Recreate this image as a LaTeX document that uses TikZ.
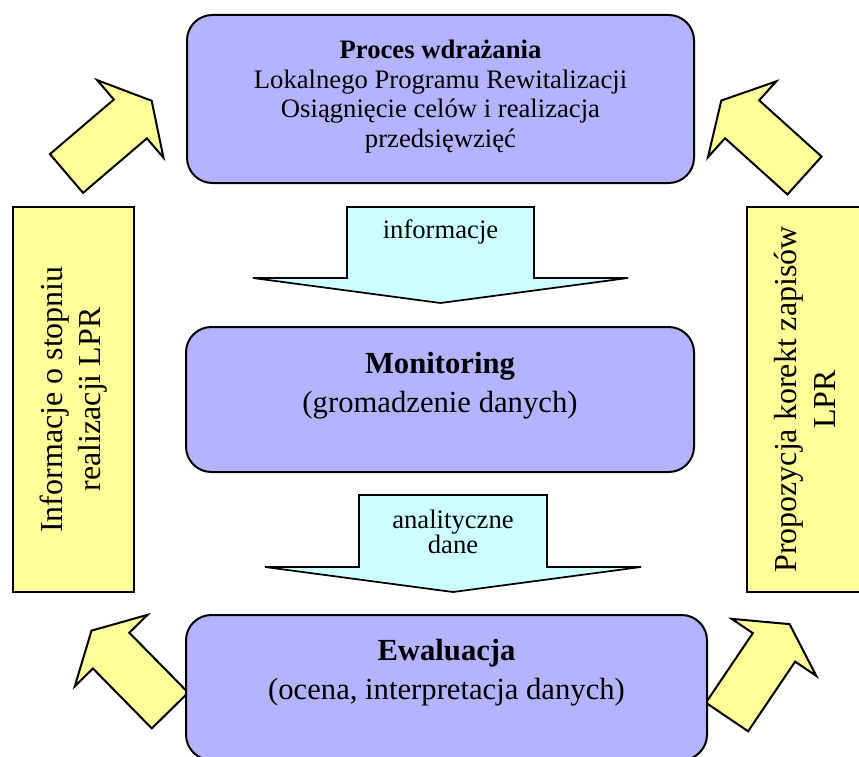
\documentclass[tikz,border=0pt]{standalone}
\usepackage{fontspec}
\setmainfont{Liberation Serif}
\usepackage{tikz}
\definecolor{lavender}{RGB}{179, 179, 255}
\definecolor{canary}{RGB}{255, 255, 153}
\definecolor{icecyan}{RGB}{204, 255, 255}

\begin{document}
\begin{tikzpicture}[x=0.75pt, y=-0.75pt,
        stagebox/.style={draw=black, fill=lavender, line width=1.5pt, rounded corners=19pt, inner sep=0pt},
        sidebox/.style={draw=black, fill=canary, line width=1.5pt, inner sep=0pt,
                        minimum width=90.75pt, minimum height=288.75pt},
        stagetext/.style={align=center, inner sep=0pt, font=\fontsize{23}{29}\selectfont},
        sidetext/.style={align=center, inner sep=0pt, rotate=90, font=\fontsize{24}{29}\selectfont},
        flowtext/.style={align=center, inner sep=0pt, font=\fontsize{20}{17}\selectfont},
        flowarrow/.style={draw=black, fill=icecyan, line width=1.3pt, line join=miter},
        yarrow/.style={draw=black, fill=canary, line width=1.5pt, line join=miter},
        pics/blok/.style={code={
            \filldraw[yarrow] (0,-25.5) -- (84,-25.5) -- (84,-51) -- (112,0) -- (84,51) -- (84,25.5) -- (0,25.5) -- cycle;
        }}]
    \useasboundingbox (0,0) rectangle (859,756);

    \pic[rotate=40.5] at ( 66.5, 173.5) {blok};
    \pic[rotate=138]  at (804.5, 175.5) {blok};
    \pic[rotate=134.5] at (170.0, 710.5) {blok};
    \pic[rotate=56]   at (727.0, 717.0) {blok};

    \node[stagebox, minimum width=380.25pt, minimum height=126pt]    (proces)     at (440.5,  99.0) {};
    \node[stagebox, minimum width=381pt,    minimum height=108.75pt] (monitoring) at (440.0, 399.5) {};
    \node[stagebox, minimum width=390.75pt, minimum height=108.75pt] (ewaluacja)  at (446.5, 687.5) {};

    \node[stagetext, font=\fontsize{20}{22.3}\selectfont] (procestxt) at ([yshift=1.9pt]proces.center)
        {\textbf{Proces wdrażania}\\Lokalnego Programu Rewitalizacji\\Osiągnięcie celów i realizacja\\przedsięwzięć};
    \node[stagetext] (monitoringtxt) at ([yshift=10.5pt]monitoring.center) {\textbf{Monitoring}\\(gromadzenie danych)};
    \node[stagetext] (ewaluacjatxt)  at ([yshift=11.25pt]ewaluacja.center) {\textbf{Ewaluacja}\\(ocena, interpretacja danych)};

    \node[sidebox] (lewy)  at ( 73.5, 399.5) {};
    \node[sidebox] (prawy) at (807.5, 399.5) {};
    \node[sidetext] (lewytxt)  at (lewy.center)  {Informacje o stopniu\\realizacji LPR};
    \node[sidetext] (prawytxt) at ([xshift=-1.9pt]prawy.center) {Propozycja korekt zapisów\\LPR};

    \filldraw[flowarrow] (347,207) -- (534,207) -- (534,278) -- (628,278) -- (440.5,303) -- (253,278) -- (347,278) -- cycle;
    \filldraw[flowarrow] (359,495) -- (547,495) -- (547,567) -- (641,567) -- (453.0,592) -- (265,567) -- (359,567) -- cycle;
    \node[flowtext, anchor=base] (informacje) at (440.5, 238) {informacje};
    \node[flowtext] (analityczne) at (453, 532) {analityczne\\dane};
\end{tikzpicture}
\end{document}
